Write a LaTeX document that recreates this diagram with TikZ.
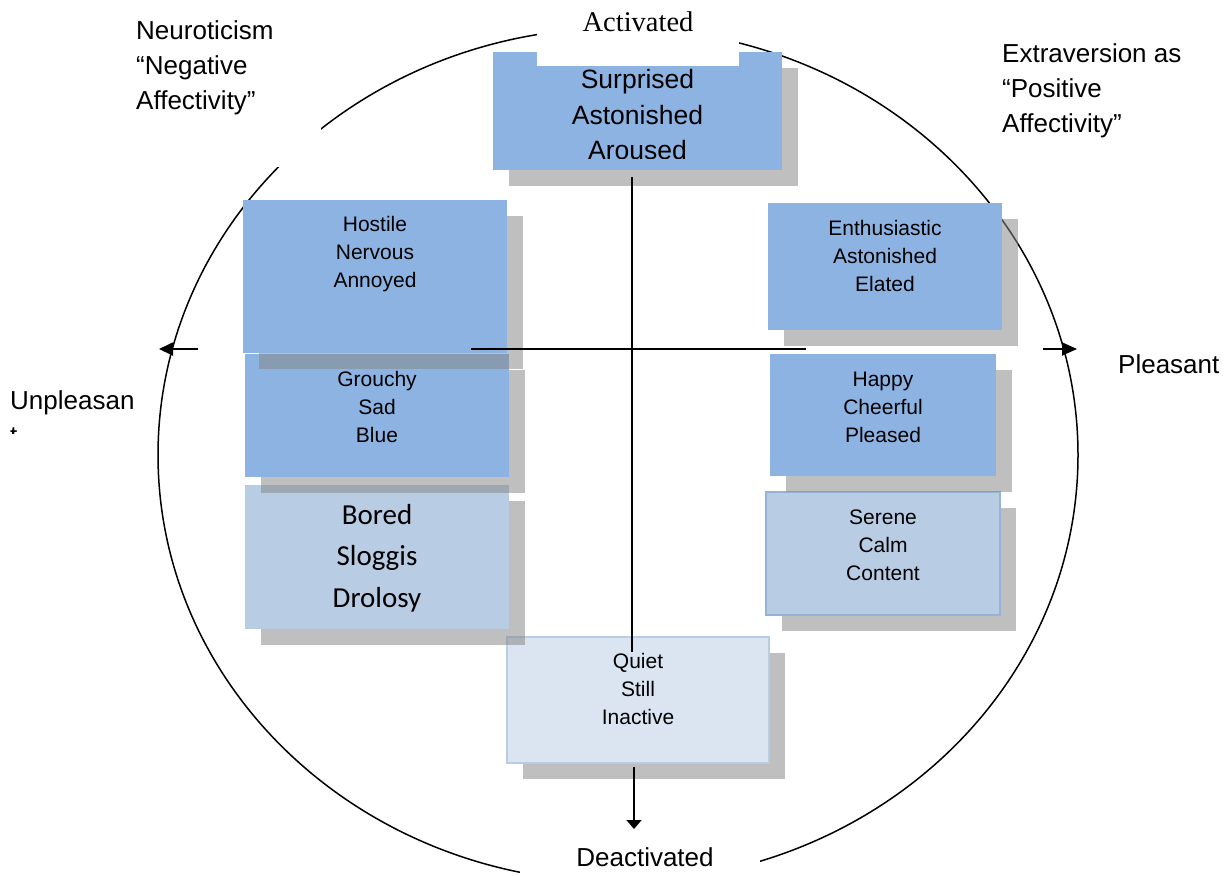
\documentclass[tikz,border=0pt]{standalone}
\usepackage{fontspec}
\setmainfont{Liberation Sans}
\newfontfamily\timesfont{Liberation Serif}
\newfontfamily\calfont{Carlito}
\usetikzlibrary{shadows,arrows.meta}
\definecolor{boxblue}{RGB}{141,179,226}
\definecolor{lightblue}{RGB}{184,204,228}
\definecolor{paleblue}{RGB}{219,229,241}
\definecolor{serborder}{RGB}{149,179,215}
\definecolor{quietborder}{RGB}{184,204,228}
\definecolor{shadowgray}{RGB}{135,135,135}
\tikzset{
  box/.style={rectangle, draw=none, fill=boxblue, anchor=north west, inner sep=0pt, outer sep=0pt,
    drop shadow={shadow xshift=16pt, shadow yshift=-16pt, fill=shadowgray, opacity=0.535}},
  btext/.style={font=\fontsize{21}{28}\selectfont, align=center, anchor=base, inner sep=0pt},
  lbl/.style={font=\fontsize{26}{35}\selectfont, align=left, anchor=base west, inner sep=0pt},
  axis/.style={line width=1.8pt},
  whitebg/.style={fill=white, anchor=north west, inner sep=0pt, outer sep=0pt}
}
\begin{document}
\begin{tikzpicture}[x=1pt,y=-1pt]
\useasboundingbox (0,0) rectangle (1225,875);
% outer circle
\draw[line width=1.5pt] (618,455) ellipse [x radius=460, y radius=427];

% boxes (drawing order matters for shadow overlap); text anchored at baseline of last line
\node[box, fill=paleblue, draw=quietborder, line width=1.5pt, minimum width=262, minimum height=126] (quiet) at (507,637) {};
\node[btext] (quiett) at ([yshift=-87.5pt]quiet.north) {Quiet\\Still\\Inactive};

\node[box, fill=lightblue, minimum width=264, minimum height=144] (bored) at (245,485) {};
\node[btext, font=\calfont\fontsize{29}{41.5}\selectfont] (boredt) at ([yshift=-122.3pt]bored.north) {Bored\\Sloggis\\Drolosy};

\node[box, minimum width=264, minimum height=123] (grouchy) at (245,354) {};
\node[btext] (groucht) at ([yshift=-88.5pt]grouchy.north) {Grouchy\\Sad\\Blue};

\node[box, minimum width=264, minimum height=153] (hostile) at (243,200) {};
\node[btext] (hostilet) at ([yshift=-87.5pt]hostile.north) {Hostile\\Nervous\\Annoyed};

\node[box, fill=lightblue, draw=serborder, line width=1.5pt, minimum width=234, minimum height=123] (serene) at (766,492) {};
\node[btext] (serenet) at ([yshift=-88.5pt]serene.north) {Serene\\Calm\\Content};

\node[box, minimum width=226, minimum height=122] (happy) at (770,354) {};
\node[btext] (happyt) at ([yshift=-88.5pt]happy.north) {Happy\\Cheerful\\Pleased};

\node[box, minimum width=234, minimum height=127] (enth) at (768,203) {};
\node[btext] (entht) at ([yshift=-88.5pt]enth.north) {Enthusiastic\\Astonished\\Elated};

\node[box, minimum width=289, minimum height=118] (surp) at (493,52) {};
\begin{scope}
  \clip (493,52) rectangle (782,158);
  \node[btext, font=\fontsize{26.5}{35.5}\selectfont] (surpt) at ([yshift=-107.5pt]surp.north) {Surprised\\Astonished\\Aroused};
\end{scope}

% Activated label on white
\node[whitebg, minimum width=202, minimum height=66] (actbg) at (537,0) {};
\node[font=\timesfont\fontsize{28.5}{34}\selectfont, anchor=base, inner sep=0pt] (act) at (638,31.5) {Activated};

% axes
\coordinate (vtop) at (632,177);
\coordinate (vbot) at (632,652);
\draw[axis] (vtop) -- (vbot);
\coordinate (hl) at (471,349);
\coordinate (hr) at (806,349);
\draw[axis] (hl) -- (hr);
\coordinate (la) at (198,349);
\coordinate (lt) at (159,349);
\draw[axis, -{Triangle[length=14pt,width=13pt]}] (la) -- (lt);
\coordinate (ra) at (1043,349);
\coordinate (rt) at (1077,349);
\draw[axis, -{Triangle[length=15pt,width=13pt]}] (ra) -- (rt);
\coordinate (da) at (634,767);
\coordinate (dt) at (634,829);
\draw[axis, -{Triangle[length=9pt,width=15pt]}] (da) -- (dt);

% corner labels
\node[whitebg, minimum width=196, minimum height=159] (neurobg) at (125,8) {};
\node[lbl] (neuro) at (136,109.3) {Neuroticism\\“Negative\\Affectivity”};
\node[lbl] (extra) at (1002,132.3) {Extraversion as\\“Positive\\Affectivity”};
\node[lbl] (pleas) at (1118,373.5) {Pleasant};
\begin{scope}
  \clip (0,370) rectangle (160,433);
  \node[lbl] (unpl) at (10,444) {Unpleasan\\t};
\end{scope}
\node[whitebg, minimum width=240, minimum height=40] (deacbg) at (520,837) {};
\node[font=\fontsize{26}{35}\selectfont, anchor=base, inner sep=0pt] (deac) at (645,866.3) {Deactivated};
\end{tikzpicture}
\end{document}
